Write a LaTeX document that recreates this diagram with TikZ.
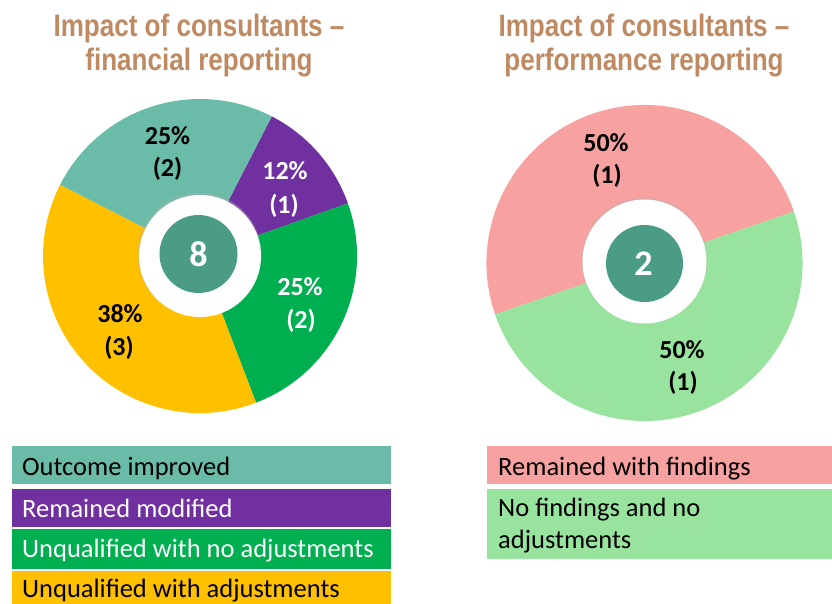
\documentclass[tikz,border=0pt]{standalone}
\usepackage{fontspec}
\setmainfont{Carlito}
\newfontfamily\titlefont[FakeStretch=0.84]{Liberation Sans}
\definecolor{titlec}{HTML}{BF8A62}
\definecolor{tealc}{HTML}{6ABBA8}
\definecolor{purplec}{HTML}{7030A0}
\definecolor{greenc}{HTML}{00B050}
\definecolor{yellowc}{HTML}{FFC000}
\definecolor{pinkc}{HTML}{F7A1A0}
\definecolor{lgreenc}{HTML}{98E49E}
\definecolor{darkc}{HTML}{4A9C87}
\newcommand\donutslice[5]{\fill[#5] (#1) -- ++(#2:#4) arc[start angle=#2, end angle=#3, radius=#4] -- cycle;}
\begin{document}
\begin{tikzpicture}[x=1pt,y=-1pt,
  titletxt/.style={font=\titlefont\bfseries\fontsize{31}{35}\selectfont, text=titlec, anchor=base, inner sep=0pt},
  lbl/.style={font=\bfseries\fontsize{26}{30}\selectfont, anchor=base, inner sep=0pt},
  legtxt/.style={font=\fontsize{26.5}{32}\selectfont, anchor=base west, inner sep=0pt},
  numtxt/.style={font=\bfseries\fontsize{36}{40}\selectfont, text=white, anchor=base, inner sep=0pt},
  holeshadow/.style={fill=black!30, opacity=0.35},
  hole/.style={fill=white},
  core/.style={fill=darkc}]
\useasboundingbox (0,0) rectangle (832,604);
\fill[white] (0,0) rectangle (832,604);

% ---- titles
\node[titletxt] (t1a) at (199,37) {Impact of consultants –};
\node[titletxt] (t1b) at (199,71) {financial reporting};
\node[titletxt] (t2a) at (644,37) {Impact of consultants –};
\node[titletxt] (t2b) at (644,71) {performance reporting};

% ---- left donut
\coordinate (cl) at (200,256);
\donutslice{cl}{-62.8}{-19.6}{157}{purplec}
\donutslice{cl}{-19.6}{69.1}{157}{greenc}
\donutslice{cl}{69.1}{207}{157}{yellowc}
\donutslice{cl}{207}{297.2}{157}{tealc}
\fill[holeshadow] (199.5,254.5) circle[radius=62];
\fill[hole] (cl) circle[radius=61];
\fill[core] (198.5,254) circle[radius=39];
\node[numtxt] (n8) at (198.5,266) {8};

\node[lbl] (l1a) at (167.5,145) {25\%};
\node[lbl] (l1b) at (167.5,177) {(2)};
\node[lbl, text=white] (l2a) at (285,180) {12\%};
\node[lbl, text=white] (l2b) at (284,214) {(1)};
\node[lbl, text=white] (l3a) at (300,295) {25\%};
\node[lbl, text=white] (l3b) at (301,328) {(2)};
\node[lbl] (l4a) at (120,322) {38\%};
\node[lbl] (l4b) at (119,355) {(3)};

% ---- right donut
\coordinate (cr) at (644.5,263);
\donutslice{cr}{-199}{-19}{158}{pinkc}
\donutslice{cr}{-19}{161}{158}{lgreenc}
\fill[holeshadow] (644.5,260.5) circle[radius=63];
\fill[hole] (644.5,261.5) circle[radius=62];
\fill[core] (644.5,263.5) circle[radius=38.5];
\node[numtxt] (n2) at (643.5,275) {2};

\node[lbl] (r1a) at (606,152) {50\%};
\node[lbl] (r1b) at (607,183) {(1)};
\node[lbl] (r2a) at (682,358) {50\%};
\node[lbl] (r2b) at (683,390) {(1)};

% ---- left legend
\fill[tealc] (12,446) rectangle (391,484);
\fill[purplec] (12,488.5) rectangle (391,527);
\fill[greenc] (12,529) rectangle (391,569);
\fill[yellowc] (12,571) rectangle (391,604);
\node[legtxt] (g1) at (22,475) {Outcome improved};
\node[legtxt, text=white] (g2) at (22,517) {Remained modified};
\node[legtxt, text=white] (g3) at (22,557) {Unqualified with no adjustments};
\node[legtxt] (g4) at (22,597) {Unqualified with adjustments};

% ---- right legend
\fill[pinkc] (487,446) rectangle (832,484);
\fill[lgreenc] (487,488.5) rectangle (832,559);
\node[legtxt] (h1) at (498,475) {Remained with findings};
\node[legtxt] (h2a) at (498,516) {No findings and no};
\node[legtxt] (h2b) at (498,548) {adjustments};
\end{tikzpicture}
\end{document}
